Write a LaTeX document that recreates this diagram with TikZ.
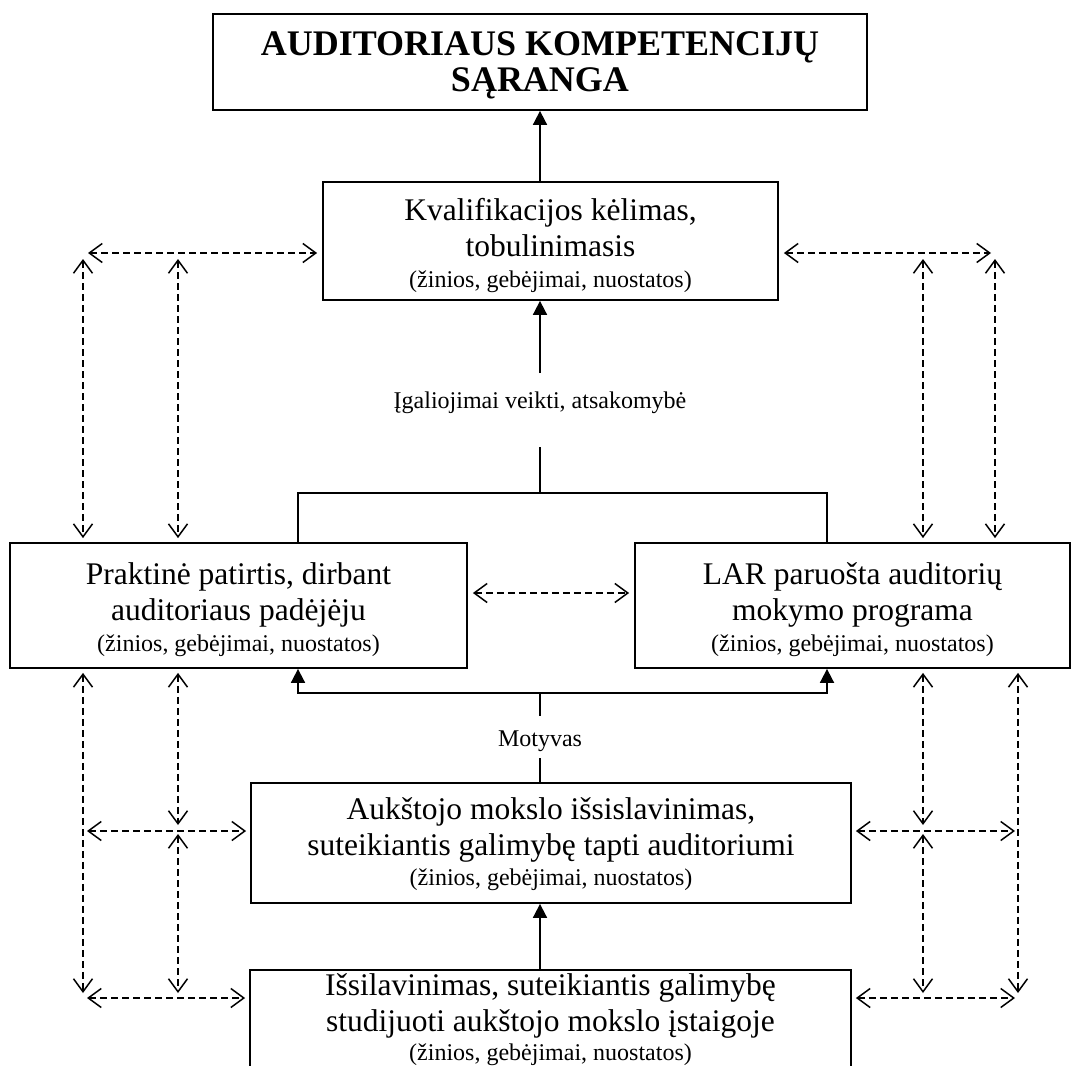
\documentclass[tikz,border=0pt]{standalone}
\usepackage{fontspec}
\setmainfont{Liberation Serif}
\usetikzlibrary{arrows.meta,calc}
\begin{document}
\begin{tikzpicture}[x=1pt,y=-1pt,
  box/.style={draw, line width=1.8pt, inner sep=0pt, align=center, font=\fontsize{31.5}{36}\selectfont},
  lbl/.style={inner sep=0pt, font=\fontsize{24}{28}\selectfont},
  solidarr/.style={line width=1.8pt, -{Triangle[length=14pt,width=14pt]}},
  plain/.style={line width=1.8pt},
  darr/.style={line width=1.5pt, dash pattern=on 7pt off 4pt,
    {Straight Barb[length=13pt,width=19pt,line width=1.5pt]}-{Straight Barb[length=13pt,width=19pt,line width=1.5pt]}},
]
\useasboundingbox (0,0) rectangle (1080,1066);
\clip (0,0) rectangle (1080,1066);
\newcommand{\smalltxt}{{\fontsize{24}{28}\selectfont (žinios, gebėjimai, nuostatos)}}
\newcommand{\lift}[1]{\rule{0pt}{#1}}

% boxes
\node[box, minimum width=654pt, minimum height=96pt, font=\bfseries\fontsize{36}{36}\selectfont] (t) at (540,62) {\lift{30pt}AUDITORIAUS KOMPETENCIJŲ\\SĄRANGA};
\node[box, minimum width=455pt, minimum height=118pt] (k) at (550.5,241) {\lift{31pt}Kvalifikacijos kėlimas,\\tobulinimasis\\[-5pt]\smalltxt};
\node[box, minimum width=457pt, minimum height=125pt] (p) at (238.5,605.5) {\lift{29.5pt}Praktinė patirtis, dirbant\\auditoriaus padėjėju\\[-5pt]\smalltxt};
\node[box, minimum width=435pt, minimum height=125pt] (r) at (852.5,605.5) {\lift{29.5pt}LAR paruošta auditorių\\mokymo programa\\[-5pt]\smalltxt};
\node[box, minimum width=600pt, minimum height=120pt] (a) at (551,843) {\lift{23.5pt}Aukštojo mokslo išsislavinimas,\\suteikiantis galimybę tapti auditoriumi\\[-6pt]\smalltxt};
\node[box, minimum width=601pt, minimum height=100pt] (i) at (550.5,1020) {Išsilavinimas, suteikiantis galimybę\\studijuoti aukštojo mokslo įstaigoje\\[-7pt]\smalltxt};

% labels
\node[lbl] (lab) at (540,403) {Įgaliojimai veikti, atsakomybė};
\node[lbl] (mot) at (540,741) {Motyvas};

% junction coordinates
\coordinate (g1) at (540,373);
\coordinate (g2) at (540,447);
\coordinate (jm) at (540,493);
\coordinate (jl) at (298,493);
\coordinate (jr) at (827,493);
\coordinate (jm2) at (540,693);
\coordinate (jl2) at (298,693);
\coordinate (jr2) at (827,693);
\coordinate (g3) at (540,716);
\coordinate (g4) at (540,758);

% solid connectors
\draw[solidarr] (k.north -| t.south) -- (t.south);
\draw[solidarr] (g1) -- (g1 |- k.south);
\draw[plain] (g2) -- (jm);
\draw[plain] (p.north -| jl) -- (jl) -- (jr) -- (r.north -| jr);
\draw[solidarr] (jm2) -- (jl2) -- (jl2 |- p.south);
\draw[solidarr] (jm2) -- (jr2) -- (jr2 |- r.south);
\draw[plain] (jm2) -- (g3);
\draw[plain] (g4) -- (g4 |- a.north);
\draw[solidarr] (i.north -| t.south) -- (a.south -| t.south);

% dashed coordinates
\coordinate (h1) at (88,253);
\coordinate (h2) at (991,253);
\coordinate (v1) at (83,259);
\coordinate (v2) at (178,259);
\coordinate (v3) at (923,259);
\coordinate (v4) at (995,259);
\coordinate (mid) at (551,593);
\coordinate (lb1) at (83,993);
\coordinate (lm1) at (178,825);
\coordinate (lm2) at (178,834);
\coordinate (lb2) at (178,993);
\coordinate (rm1) at (923,825);
\coordinate (rm2) at (923,834);
\coordinate (rb1) at (923,993);
\coordinate (rb2) at (1018,993);
\coordinate (hl1) at (87,831);
\coordinate (hl2) at (87,998);
\coordinate (hr1) at (1015,831);
\coordinate (hr2) at (1015,998);

% dashed connectors top
\draw[darr, shorten >=5pt] (h1) -- (h1 -| k.west);
\draw[darr, shorten <=5pt] (h2 -| k.east) -- (h2);
\draw[darr, shorten >=4pt] (v1) -- (v1 |- p.north);
\draw[darr, shorten >=4pt] (v2) -- (v2 |- p.north);
\draw[darr, shorten >=4pt] (v3) -- (v3 |- r.north);
\draw[darr, shorten >=4pt] (v4) -- (v4 |- r.north);
% middle
\draw[darr, shorten <=5pt, shorten >=5pt] (mid -| p.east) -- (mid -| r.west);
% lower verticals
\draw[darr, shorten <=4pt] (lb1 |- p.south) -- (lb1);
\draw[darr, shorten <=4pt] (lm1 |- p.south) -- (lm1);
\draw[darr] (lm2) -- (lb2);
\draw[darr, shorten <=4pt] (rm1 |- r.south) -- (rm1);
\draw[darr] (rm2) -- (rb1);
\draw[darr, shorten <=4pt] (rb2 |- r.south) -- (rb2);
% lower horizontals
\draw[darr, shorten >=4pt] (hl1) -- (hl1 -| a.west);
\draw[darr, shorten >=4pt] (hl2) -- (hl2 -| i.west);
\draw[darr, shorten <=4pt] (hr1 -| a.east) -- (hr1);
\draw[darr, shorten <=4pt] (hr2 -| i.east) -- (hr2);
\end{tikzpicture}
\end{document}
